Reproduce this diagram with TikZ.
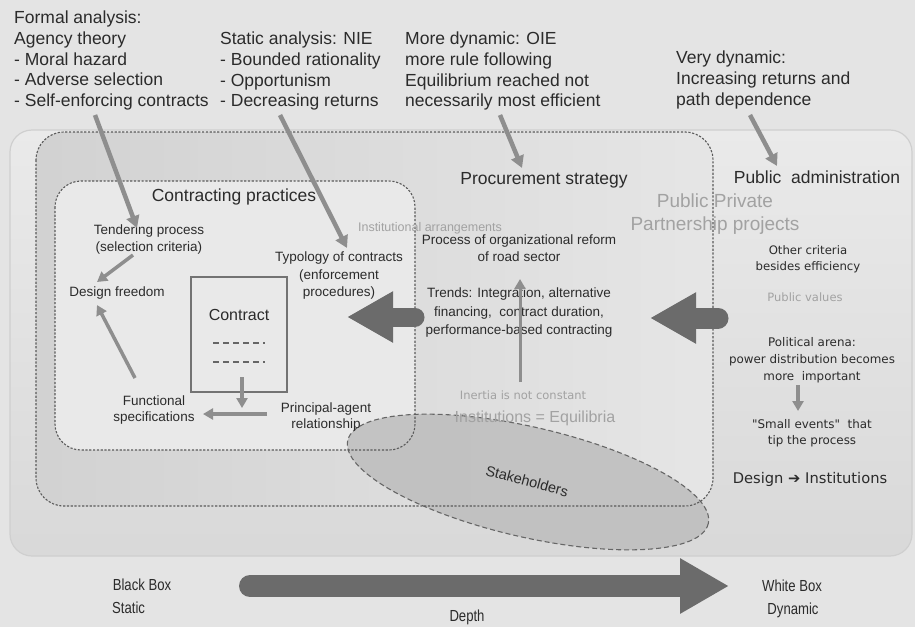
\documentclass[tikz,border=0pt]{standalone}
\usepackage{fontspec}
\setmainfont{Liberation Sans}
\newfontfamily\tahfont{DejaVu Sans}
\newfontfamily\narrowfont[FakeStretch=0.82]{Liberation Sans}
\usetikzlibrary{arrows.meta,shapes.geometric}

\definecolor{pagebg}{HTML}{E4E4E4}
\definecolor{ink}{HTML}{2B2B2B}
\definecolor{paleink}{HTML}{A2A2A2}
\definecolor{arrowgray}{HTML}{8E8E8E}
\definecolor{bigarrowgray}{HTML}{6B6B6B}
\definecolor{dashgray}{HTML}{5A5A5A}
\definecolor{innerfill}{HTML}{E9E9E9}
\definecolor{stakefill}{HTML}{BDBDBD}

\tikzset{
  txt/.style={text=ink, inner sep=0pt},
  toptxt/.style={txt, font=\fontsize{17.5}{20.7}\selectfont, align=left, anchor=north west},
  headtxt/.style={txt, font=\fontsize{17.5}{21}\selectfont},
  lbl/.style={txt, font=\fontsize{13.5}{17}\selectfont, align=center},
  tahlbl/.style={txt, font=\tahfont\fontsize{11.8}{16.5}\selectfont, align=center},
  boxlbl/.style={txt, font=\narrowfont\fontsize{16}{20}\selectfont},
  garrow/.style={draw=arrowgray, line width=4.5pt, -{Triangle[length=12pt,width=13pt]}},
  iarrow/.style={draw=arrowgray, line width=3.5pt, -{Triangle[length=10pt,width=11pt]}},
  bigarrow/.style={draw=bigarrowgray, line cap=round, -{Triangle[length=46pt,width=48pt]}},
  boxdash/.style={draw=dashgray, line width=1.1pt, dash pattern=on 2.2pt off 1.6pt},
}

\begin{document}
\begin{tikzpicture}[x=1pt,y=-1pt]
\useasboundingbox (0,0) rectangle (915,627);
\fill[pagebg] (0,0) rectangle (915,627);

% nested frames
\shade[top color=white!22!pagebg, bottom color=black!5!pagebg, draw=black!9!pagebg, line width=1.2pt, rounded corners=22pt]
  (10,130) rectangle (912,556);
\shade[left color=black!8!pagebg, right color=white!6!pagebg, rounded corners=28pt]
  (36,132) rectangle (713,506);
\fill[innerfill, rounded corners=26pt] (55,181) rectangle (415,450);

% stakeholders ellipse
\draw[fill=stakefill, fill opacity=0.85, draw=black!60, line width=1.1pt, dash pattern=on 5pt off 3pt,
  rotate around={-13:(528,482)}] (528,482) ellipse [x radius=185, y radius=55];
\node[txt, font=\fontsize{14.5}{17}\selectfont, rotate=-15] (stake) at (527,481) {Stakeholders};

\draw[boxdash, rounded corners=28pt] (36,132) rectangle (713,506);
\draw[boxdash, rounded corners=26pt] (55,181) rectangle (415,450);

% theory blocks along the top
\node[toptxt] (formal) at (14,11) {Formal analysis:\\Agency theory\\- Moral hazard\\- Adverse selection\\- Self-enforcing contracts};
\node[toptxt] (nie) at (220,32) {Static analysis: NIE\\- Bounded rationality\\- Opportunism\\- Decreasing returns};
\node[toptxt] (oie) at (405,32) {More dynamic: OIE\\more rule following\\Equilibrium reached not\\necessarily most efficient};
\node[toptxt] (verydyn) at (676,51) {Very dynamic:\\Increasing returns and\\path dependence};

% section headings
\node[headtxt] (contracting) at (234,197) {Contracting practices};
\node[headtxt] (procurement) at (544,180) {Procurement strategy};
\node[headtxt] (pubadmin) at (817,177) {Public\ \ administration};
\node[txt, text=paleink, font=\fontsize{19}{23}\selectfont, align=center] (ppp) at (715,214) {Public Private\\Partnership projects};

% contracting practices
\node[lbl] (tender) at (149,240) {Tendering process\\(selection criteria)};
\node[lbl] (design) at (117,293) {Design freedom};
\node[lbl, font=\fontsize{13.5}{17.5}\selectfont] (typology) at (339,276) {Typology of contracts\\(enforcement\\procedures)};
\node[lbl, font=\fontsize{13.5}{16}\selectfont] (functional) at (154,410) {Functional\\specifications};
\node[lbl, font=\fontsize{13.5}{16}\selectfont] (principal) at (326,417) {Principal-agent\\relationship};

\node[draw=black!55, line width=1.3pt, minimum width=96pt, minimum height=115pt, inner sep=0pt] (contractbox) at (239,334.5) {};
\node[txt, font=\fontsize{16}{19}\selectfont] (contract) at (239,315) {Contract};
\coordinate (dl1a) at (213,343); \coordinate (dl1b) at (265,343);
\coordinate (dl2a) at (213,362); \coordinate (dl2b) at (265,362);
\draw[black!60, line width=1.3pt, dash pattern=on 6pt off 4pt] (dl1a) -- (dl1b);
\draw[black!60, line width=1.3pt, dash pattern=on 6pt off 4pt] (dl2a) -- (dl2b);

% procurement strategy
\node[txt, text=paleink, font=\fontsize{12.5}{15}\selectfont] (instarr) at (430,228) {Institutional arrangements};
\node[lbl] (process) at (519,248) {Process of organizational reform\\of road sector};
\node[lbl, font=\fontsize{13.5}{18.5}\selectfont] (trends) at (519,313) {Trends: Integration, alternative\\financing,\ \ contract duration,\\performance-based contracting};
\node[txt, text=paleink, font=\tahfont\fontsize{11.5}{14}\selectfont] (inertia) at (523,395) {Inertia is not constant};
\node[txt, text=paleink, font=\fontsize{16}{19}\selectfont] (inst) at (535,418) {Institutions = Equilibria};

% public administration
\node[tahlbl, font=\tahfont\fontsize{11.7}{16}\selectfont] (other) at (808,259) {Other criteria\\besides efficiency};
\node[txt, text=paleink, font=\tahfont\fontsize{11.5}{14}\selectfont] (pubval) at (805,297) {Public values};
\node[tahlbl, font=\tahfont\fontsize{11.9}{17}\selectfont] (political) at (812,360) {Political arena:\\power distribution becomes\\more\ \ important};
\node[tahlbl, font=\tahfont\fontsize{11.9}{16}\selectfont] (small) at (812,433) {"Small events"\ \ that\\tip the process};
\node[txt, font=\tahfont\fontsize{14.7}{18}\selectfont] (designinst) at (810,479) {Design ➔ Institutions};

% depth axis
\node[boxlbl] (blackbox) at (142,585) {Black Box};
\node[boxlbl, anchor=west] (static) at (112,608) {Static};
\node[boxlbl] (whitebox) at (792,586) {White Box};
\node[boxlbl] (dynamic) at (793,610) {Dynamic};
\node[boxlbl] (depth) at (467,617) {Depth};

% connector end points
\coordinate (a1s) at (95,115);   \coordinate (a1e) at (137,228);
\coordinate (a2s) at (280,115);  \coordinate (a2e) at (347,248);
\coordinate (a3s) at (500,115);  \coordinate (a3e) at (522,168);
\coordinate (a4s) at (750,115);  \coordinate (a4e) at (777,166);
\coordinate (td1) at (133,255);  \coordinate (td2) at (97,282);
\coordinate (fd1) at (135,378);  \coordinate (fd2) at (97,305);
\coordinate (cd1) at (242,377);  \coordinate (cd2) at (242,408);
\coordinate (pf1) at (267,414);  \coordinate (pf2) at (203,414);
\coordinate (tu1) at (520,382);  \coordinate (tu2) at (520,279);
\coordinate (ps1) at (798,385);  \coordinate (ps2) at (798,411);
\coordinate (b1s) at (415,317);  \coordinate (b1e) at (347,317);
\coordinate (b2s) at (718,318);  \coordinate (b2e) at (650,318);
\coordinate (dps) at (250,586);  \coordinate (dpe) at (729,586);

% connectors
\draw[garrow] (a1s) -- (a1e);
\draw[garrow] (a2s) -- (a2e);
\draw[garrow] (a3s) -- (a3e);
\draw[garrow] (a4s) -- (a4e);
\draw[iarrow] (td1) -- (td2);
\draw[iarrow] (fd1) -- (fd2);
\draw[iarrow] (cd1) -- (cd2);
\draw[iarrow] (pf1) -- (pf2);
\draw[iarrow, line width=3pt] (tu1) -- (tu2);
\draw[iarrow] (ps1) -- (ps2);
\draw[bigarrow, line width=19pt] (b1s) -- (b1e);
\draw[bigarrow, line width=21pt] (b2s) -- (b2e);
\draw[bigarrow, line width=22pt, -{Triangle[length=49pt,width=52pt]}] (dps) -- (dpe);
\end{tikzpicture}
\end{document}
